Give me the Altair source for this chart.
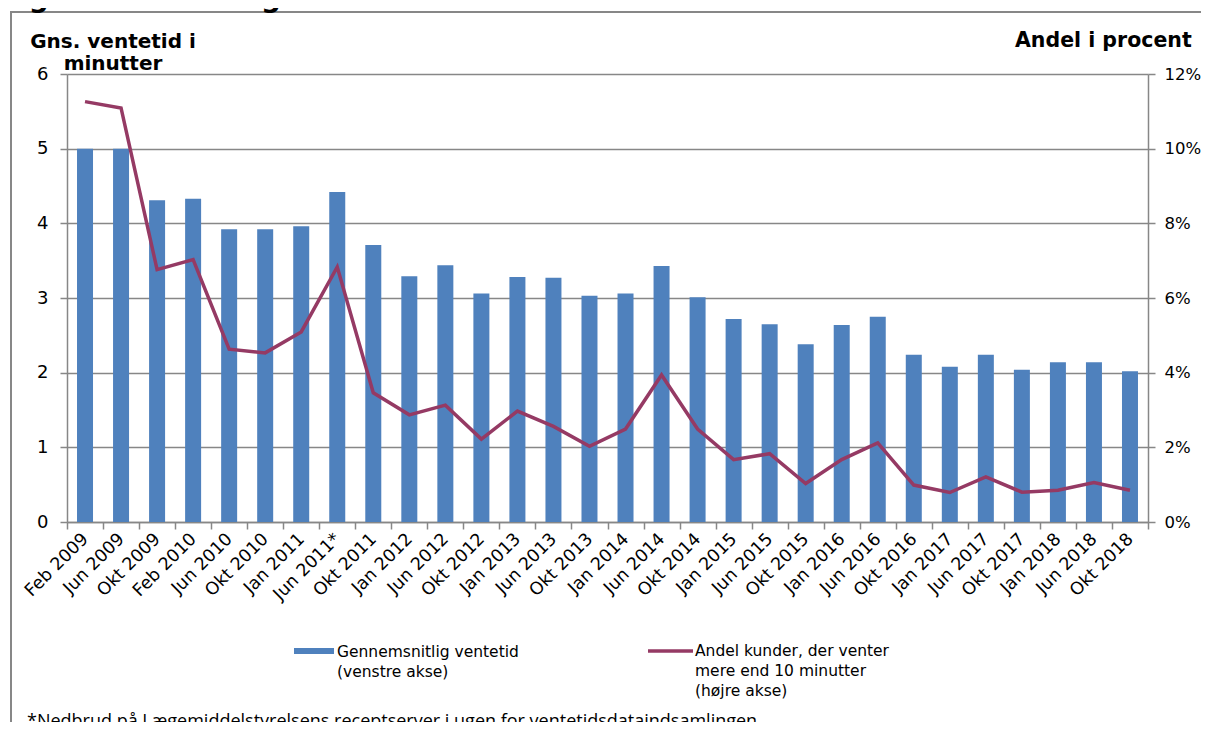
import altair as alt
import pandas as pd

# ---- data ----
maaneder = ["Feb 2009", "Jun 2009", "Okt 2009", "Feb 2010", "Jun 2010", "Okt 2010",
            "Jan 2011", "Jun 2011*", "Okt 2011", "Jan 2012", "Jun 2012", "Okt 2012",
            "Jan 2013", "Jun 2013", "Okt 2013", "Jan 2014", "Jun 2014", "Okt 2014",
            "Jan 2015", "Jun 2015", "Okt 2015", "Jan 2016", "Jun 2016", "Okt 2016",
            "Jan 2017", "Jun 2017", "Okt 2017", "Jan 2018", "Jun 2018", "Okt 2018"]

ventetid = [5.00, 5.00, 4.31, 4.33, 3.92, 3.92, 3.96, 4.42, 3.71, 3.29,
            3.44, 3.06, 3.28, 3.27, 3.03, 3.06, 3.43, 3.01, 2.72, 2.65,
            2.38, 2.64, 2.75, 2.24, 2.08, 2.24, 2.04, 2.14, 2.14, 2.02]

andel_pct = [11.26, 11.09, 6.76, 7.03, 4.63, 4.53, 5.09, 6.83, 3.46, 2.87,
             3.13, 2.22, 2.97, 2.56, 2.03, 2.49, 3.94, 2.49, 1.67, 1.83,
             1.03, 1.67, 2.12, 0.99, 0.79, 1.21, 0.80, 0.85, 1.06, 0.85]

left_ticks = [0, 1, 2, 3, 4, 5, 6]
right_ticks = [0, 0.02, 0.04, 0.06, 0.08, 0.10, 0.12]

df = pd.DataFrame({
    "maaned": maaneder,
    "ventetid": ventetid,
    "andel": [v / 100 for v in andel_pct],
})

FONT = "DejaVu Sans"
GRAY = "#878787"
BLUE = "#4F81BD"
MAROON = "#953A64"

W, H = 1081, 448

x_enc = alt.X("maaned:N", sort=maaneder, title=None,
              scale=alt.Scale(paddingInner=0, paddingOuter=0),
              axis=alt.Axis(labelAngle=-45, labelAlign="right", labelBaseline="middle",
                            tickBand="extent", tickSize=7, tickColor=GRAY, tickWidth=1.5,
                            domainColor=GRAY, domainWidth=1.5, labelFont=FONT,
                            labelFontSize=17.5, labelColor="black", labelPadding=7,
                            labelOverlap=False, labelBound=False))

base = alt.Chart(df)

bars = base.mark_bar(size=16, color=BLUE).encode(
    x=x_enc,
    y=alt.Y("ventetid:Q", title=None,
            scale=alt.Scale(domain=[0, 6], nice=False),
            axis=alt.Axis(orient="left", values=left_ticks, grid=True, gridColor=GRAY,
                          gridWidth=1.5, domainColor=GRAY, domainWidth=1.5,
                          tickColor=GRAY, tickWidth=1.5, tickSize=7,
                          labelFont=FONT, labelFontSize=18, labelColor="black",
                          labelPadding=12)),
)

line = base.mark_line(color=MAROON, strokeWidth=3.5).encode(
    x=alt.X("maaned:N", sort=maaneder),
    y=alt.Y("andel:Q", title=None,
            scale=alt.Scale(domain=[0, 0.12], nice=False),
            axis=alt.Axis(orient="right", values=right_ticks, format=".0%", grid=False,
                          domainColor=GRAY, domainWidth=1.5, tickColor=GRAY,
                          tickWidth=1.5, tickSize=7, labelFont=FONT,
                          labelFontSize=16.5, labelColor="black", labelPadding=9)),
)

frame = alt.Chart(pd.DataFrame({"a": [0]})).mark_rect(
    fillOpacity=0, stroke=GRAY, strokeWidth=2
).encode(x=alt.value(-56), x2=alt.value(1300), y=alt.value(-62), y2=alt.value(900))

def txt(s, x, y, size=15, bold=False, align="left", font=FONT, color="black"):
    return alt.Chart(pd.DataFrame({"a": [0]})).mark_text(
        text=s, align=align, baseline="alphabetic", font=font, fontSize=size,
        fontWeight="bold" if bold else "normal", color=color
    ).encode(x=alt.value(x), y=alt.value(y))

title = txt("Figur 2: Udvikling i ventetid 2009-2018", -67, -67, size=28, bold=True)
ytitle1 = txt("Gns. ventetid i", 46, -26, size=20, bold=True, align="center")
ytitle2 = txt("minutter", 46, -4, size=20, bold=True, align="center")
rtitle = txt("Andel i procent", 948, -27, size=20.5, bold=True)

leg_bar = alt.Chart(pd.DataFrame({"a": [0]})).mark_rect(color=BLUE).encode(
    x=alt.value(227), x2=alt.value(267), y=alt.value(574), y2=alt.value(580))
leg_t1 = txt("Gennemsnitlig ventetid", 270, 583, size=15.5)
leg_t2 = txt("(venstre akse)", 270, 603, size=15.5)

leg_line = alt.Chart(pd.DataFrame({"a": [0]})).mark_rule(color=MAROON, strokeWidth=3.5).encode(
    x=alt.value(581), x2=alt.value(626), y=alt.value(577))
leg_t3 = txt("Andel kunder, der venter", 628, 582, size=15.5)
leg_t4 = txt("mere end 10 minutter", 628, 602, size=15.5)
leg_t5 = txt("(højre akse)", 628, 622, size=15.5)

footnote = txt("*Nedbrud på Lægemiddelstyrelsens receptserver i ugen for ventetidsdataindsamlingen.",
               -40, 653, size=18, font="Open Sans")

chart = alt.layer(
    frame, bars, line, title, ytitle1, ytitle2, rtitle,
    leg_bar, leg_t1, leg_t2, leg_line, leg_t3, leg_t4, leg_t5, footnote
).resolve_scale(y="independent").properties(
    width=W, height=H,
    autosize=alt.AutoSizeParams(type="none"),
    padding={"left": 59, "top": 66, "right": 53, "bottom": 200},
    background="white",
).configure_view(stroke=None)

chart.save("out.html", embed_options={"renderer": "svg", "actions": False})
